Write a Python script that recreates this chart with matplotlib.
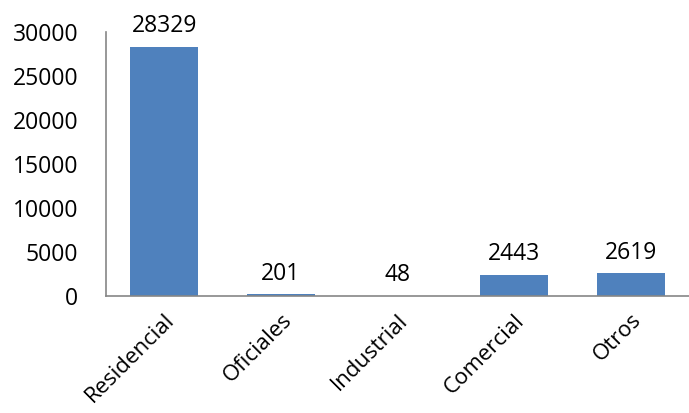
import matplotlib
matplotlib.use("Agg")
import matplotlib.pyplot as plt

categories = ["Residencial", "Oficiales", "Industrial", "Comercial", "Otros"]
values = [28329, 201, 48, 2443, 2619]
yticks = [0, 5000, 10000, 15000, 20000, 25000, 30000]

plt.rcParams['font.family'] = ['Open Sans', 'DejaVu Sans']

fig = plt.figure(figsize=(6.89, 4.13), dpi=100)
ax = fig.add_axes([106/689, 1-296/413, 1-106/689, (296-32)/413])

x = range(len(categories))
bars = ax.bar(x, values, width=0.58, color="#4F81BD")
for xi, v in zip(x, values):
    ax.annotate(str(v), (xi, v), xytext=(0, 6), textcoords="offset points",
                ha="center", va="bottom", fontsize=16.5)

ax.set_xlim(-0.5, len(categories)-0.5)
ax.set_ylim(0, 30000)
ax.set_yticks(yticks)
ax.set_yticklabels([str(t) for t in yticks], fontsize=16.5)
ax.set_xticks(list(x))
ax.set_xticklabels(categories, fontsize=16, rotation=45, ha="right", va="top",
                   rotation_mode="anchor")
ax.tick_params(axis="both", length=0)
ax.tick_params(axis="y", pad=20)
ax.tick_params(axis="x", pad=10)
for s in ["top", "right"]:
    ax.spines[s].set_visible(False)
for s in ["left", "bottom"]:
    ax.spines[s].set_color("#868686")
    ax.spines[s].set_linewidth(1.2)

fig.savefig("out.png", dpi=100)
